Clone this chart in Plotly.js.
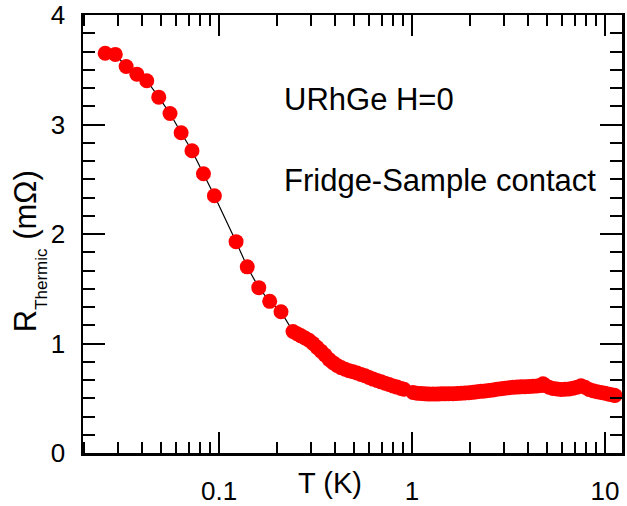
<!DOCTYPE html>
<html>
<head>
<meta charset="utf-8">
<script src="https://cdn.plot.ly/plotly-3.0.1.min.js"></script>
<style>html,body{margin:0;padding:0;background:#fff;}</style>
</head>
<body>
<div id="chart" style="width:627px;height:506px;"></div>
<script>
// Temperature (K)
const T_K = [
  0.0257, 0.0290, 0.0330, 0.0375, 0.0422, 0.0487, 0.0557, 0.0636, 0.0724, 0.0830,
  0.0946, 0.1225, 0.140, 0.1606, 0.183, 0.2094,
  0.2417, 0.2535, 0.2660, 0.2790, 0.2926, 0.3069, 0.3219, 0.3377, 0.3541, 0.3714,
  0.3897, 0.4087, 0.4287, 0.4497, 0.4717, 0.4947, 0.5189, 0.5441, 0.5709, 0.5988,
  0.6281, 0.6588, 0.6910, 0.7248, 0.7603, 0.7975, 0.8363, 0.8772, 0.9089,
  1.012, 1.061, 1.113, 1.168, 1.225, 1.285, 1.348, 1.414, 1.483, 1.555,
  1.631, 1.711, 1.795, 1.882, 1.974, 2.071, 2.172, 2.278, 2.389, 2.506,
  2.629, 2.757, 2.892, 3.033, 3.181, 3.337, 3.499, 3.671, 3.850, 4.038,
  4.236, 4.443, 4.660, 4.773, 4.888, 5.127, 5.378, 5.641, 5.916, 6.206,
  6.509, 6.827, 7.161, 7.511, 7.878, 8.263, 8.666, 9.090, 9.535, 10.0,
  10.49, 11.00, 11.27
];
// Thermal contact resistance (mOhm)
const R_mOhm = [
  3.65, 3.64, 3.53, 3.46, 3.40, 3.25, 3.10, 2.925, 2.76, 2.55,
  2.35, 1.93, 1.70, 1.51, 1.385, 1.29,
  1.11, 1.09, 1.07, 1.05, 1.03, 1.00, 0.965, 0.93, 0.895, 0.855,
  0.825, 0.80, 0.78, 0.765, 0.752, 0.742, 0.73, 0.718, 0.705, 0.69,
  0.675, 0.662, 0.65, 0.638, 0.626, 0.613, 0.602, 0.59, 0.582,
  0.553, 0.545, 0.543, 0.54, 0.538, 0.539, 0.538, 0.54, 0.54, 0.541,
  0.542, 0.544, 0.546, 0.549, 0.551, 0.554, 0.559, 0.563, 0.567, 0.571,
  0.575, 0.582, 0.587, 0.592, 0.597, 0.60, 0.602, 0.604, 0.606, 0.608,
  0.61, 0.612, 0.617, 0.632, 0.618, 0.60, 0.59, 0.584, 0.58, 0.582,
  0.584, 0.592, 0.60, 0.614, 0.60, 0.58, 0.568, 0.56, 0.553, 0.545,
  0.537, 0.53, 0.525
];
const xTickVals = [0.1, 1, 10];
const xTickText = ['0.1', '1', '10'];
const yTickVals = [0, 1, 2, 3, 4];
const yTickText = ['0', '1', '2', '3', '4'];
const label1 = 'URhGe H=0';
const label2 = 'Fridge-Sample contact';

const xMinor = [];
[0.01, 0.1, 1].forEach(d => { for (let k = 2; k <= 9; k++) xMinor.push(+(k * d).toPrecision(3)); });
const yMinor = [];
for (let i = 0; i <= 24; i++) if (i % 6 !== 0) yMinor.push(i / 6);

const FONT = 'Liberation Sans, Arial, sans-serif';

const trace = {
  x: T_K, y: R_mOhm, type: 'scatter', mode: 'lines+markers',
  line: {color: 'black', width: 1.2},
  marker: {color: '#ff0000', size: 15, line: {width: 0}},
  showlegend: false, hoverinfo: 'x+y'
};

const axisCommon = {
  showgrid: false, zeroline: false, showline: true, linecolor: 'black', linewidth: 2.5,
  mirror: 'ticks', ticks: 'inside', tickcolor: 'black', tickwidth: 2,
  tickfont: {family: FONT, size: 26, color: 'black'}
};

const layout = {
  width: 627, height: 506,
  margin: {l: 83, r: 5, t: 15, b: 53, pad: 0},
  paper_bgcolor: 'white', plot_bgcolor: 'white',
  font: {family: FONT, color: 'black'},
  xaxis: Object.assign({}, axisCommon, {
    type: 'log', range: [-1.705, 1.088], tickmode: 'array',
    tickvals: xTickVals, ticktext: xTickText, ticklen: 21, ticklabelstandoff: 13,
    minor: {tickmode: 'array', tickvals: xMinor, ticks: 'inside', ticklen: 11, tickwidth: 2, tickcolor: 'black', showgrid: false}
  }),
  yaxis: Object.assign({}, axisCommon, {
    range: [0, 4], tickmode: 'array', tickvals: yTickVals, ticktext: yTickText,
    ticklen: 22, ticklabelstandoff: 10,
    minor: {tickmode: 'array', tickvals: yMinor, ticks: 'inside', ticklen: 12, tickwidth: 2, tickcolor: 'black', showgrid: false},
    title: {text: "R<sub><sub><span style='font-size:17px'>Thermic</span></sub></sub> (mΩ)&nbsp;&nbsp;&nbsp;&nbsp;", font: {family: FONT, size: 31, color: 'black'}, standoff: 0}
  }),
  annotations: [
    {text: label1, xref: 'paper', yref: 'paper', x: 0.369, y: 0.806, xanchor: 'left', yanchor: 'middle', showarrow: false, font: {family: FONT, size: 31, color: 'black'}},
    {text: label2, xref: 'paper', yref: 'paper', x: 0.369, y: 0.623, xanchor: 'left', yanchor: 'middle', showarrow: false, font: {family: FONT, size: 31, color: 'black'}},
    {text: 'T (K)', xref: 'paper', yref: 'paper', x: 0.458, y: -0.068, xanchor: 'center', yanchor: 'middle', showarrow: false, font: {family: FONT, size: 29, color: 'black'}}
  ]
};

Plotly.newPlot('chart', [trace], layout, {displayModeBar: false, staticPlot: true});
</script>
</body>
</html>
